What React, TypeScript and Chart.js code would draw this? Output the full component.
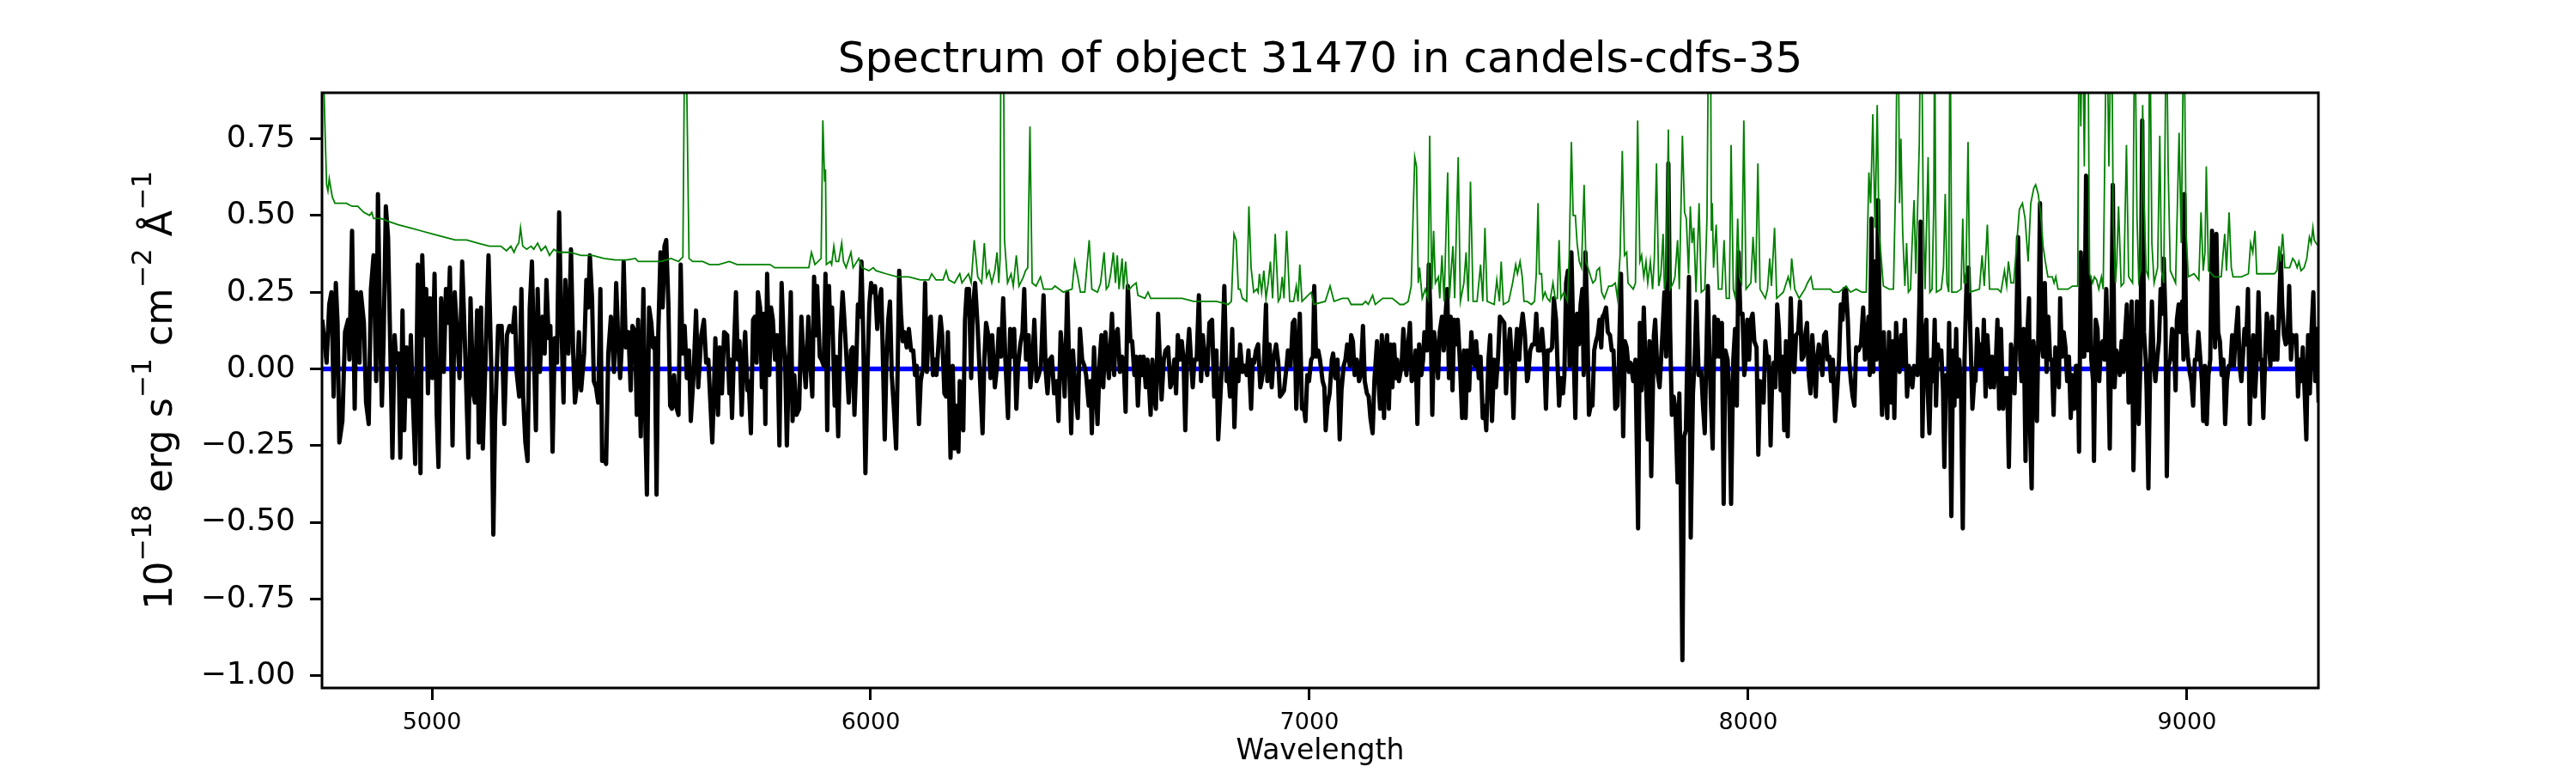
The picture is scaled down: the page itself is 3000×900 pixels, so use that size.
import React, { useEffect, useRef } from "react";
import { Chart, registerables } from "chart.js";

Chart.register(...registerables);

const FONT = "'DejaVu Sans', 'Liberation Sans', sans-serif";

const TITLE = "Spectrum of object 31470 in candels-cdfs-35";
const X_LABEL = "Wavelength";
const Y_LABEL_PARTS = [
  { text: "10", sup: false },
  { text: "\u221218", sup: true },
  { text: " erg s", sup: false },
  { text: "\u22121", sup: true },
  { text: " cm", sup: false },
  { text: "\u22122", sup: true },
  { text: " \u00c5", sup: false },
  { text: "\u22121", sup: true },
];

const xTicks = [5000, 6000, 7000, 8000, 9000];
const yTicks = [-1.0, -0.75, -0.5, -0.25, 0, 0.25, 0.5, 0.75];
const xRange = [4749.5, 9299.5];
const yRange = [-1.04, 0.9];

// observed flux: [wavelength (Å), flux (1e-18 erg/s/cm2/Å)]
const observedFlux: [number, number][] = [
  [4750,0.16],[4760,0.02],[4766,0.21],[4771,0.25],[4776,-0.09],[4781,0.28],[4785,0.15],[4789,-0.24],[4796,-0.17],[4802,0.12],[4809,0.16],[4812,0.03],[4818,0.45],[4824,-0.13],[4828,0.25],[4835,0.02],[4838,0.25],[4845,0.15],[4850,-0.11],[4856,-0.18],[4861,0.26],[4867,0.37],[4873,-0.04],[4877,0.57],[4882,0.12],[4886,-0.12],[4890,0.10],[4895,0.53],[4900,0.43],[4904,0.15],[4910,-0.29],[4915,0.11],[4919,0.02],[4924,0.05],[4928,-0.29],[4933,0.19],[4937,-0.20],[4942,0.07],[4948,-0.09],[4952,0.11],[4955,-0.04],[4962,-0.31],[4968,0.34],[4974,-0.34],[4978,0.37],[4983,0.11],[4987,0.26],[4991,-0.08],[4996,0.23],[5001,-0.03],[5006,0.31],[5011,-0.15],[5015,-0.32],[5021,0.23],[5027,-0.01],[5032,0.26],[5037,0.15],[5041,0.33],[5047,-0.25],[5052,0.25],[5056,0.15],[5063,-0.03],[5069,0.35],[5076,0.05],[5083,-0.29],[5088,0.23],[5094,-0.08],[5098,-0.11],[5103,0.19],[5107,-0.24],[5112,0.20],[5116,-0.26],[5122,0.02],[5129,0.37],[5135,0.02],[5140,-0.54],[5144,-0.17],[5151,0.14],[5159,0.14],[5165,-0.18],[5171,0.11],[5177,0.14],[5184,0.12],[5189,0.20],[5193,-0.01],[5199,-0.09],[5204,0.26],[5208,-0.09],[5213,-0.24],[5218,-0.30],[5223,0.20],[5228,0.35],[5233,0.02],[5237,-0.20],[5241,0.26],[5246,-0.01],[5252,0.17],[5257,0.05],[5261,0.29],[5266,0.10],[5270,0.14],[5275,-0.27],[5280,0.10],[5285,0.02],[5290,0.51],[5294,0.20],[5300,-0.11],[5304,0.29],[5311,0.05],[5317,0.39],[5322,0.05],[5326,-0.11],[5330,-0.06],[5335,0.12],[5340,-0.07],[5347,0.05],[5352,0.29],[5356,0.20],[5360,0.37],[5365,0.23],[5369,-0.04],[5374,-0.06],[5379,-0.11],[5384,0.26],[5388,-0.30],[5392,-0.29],[5397,-0.31],[5402,0.05],[5408,0.17],[5415,-0.01],[5420,0.28],[5425,0.08],[5429,-0.03],[5433,0.08],[5437,0.35],[5442,0.07],[5448,0.12],[5453,-0.07],[5457,0.14],[5463,0.12],[5467,-0.15],[5470,0.16],[5476,-0.22],[5482,0.26],[5487,-0.22],[5490,-0.41],[5495,0.20],[5500,0.15],[5504,0.07],[5508,0.10],[5512,-0.41],[5516,0.12],[5521,0.38],[5526,0.20],[5530,0.40],[5534,0.42],[5539,0.21],[5543,-0.12],[5547,-0.13],[5552,-0.02],[5556,-0.12],[5562,-0.15],[5567,0.34],[5571,0.05],[5576,0.14],[5581,-0.03],[5586,0.06],[5590,-0.17],[5596,-0.03],[5602,0.19],[5607,-0.06],[5614,0.11],[5620,0.16],[5625,0.02],[5630,0.03],[5639,-0.24],[5643,-0.06],[5646,0.10],[5652,-0.15],[5656,0.07],[5661,-0.08],[5666,0.12],[5673,0.11],[5678,-0.08],
  [5680,0.03],[5684,-0.16],[5689,0.09],[5693,0.25],[5697,0.03],[5701,0.09],[5706,-0.15],[5710,0.03],[5714,0.12],[5719,-0.07],[5722,-0.04],[5727,-0.21],[5732,0.16],[5736,0.17],[5740,0.02],[5743,0.25],[5748,0.20],[5752,-0.06],[5756,0.18],[5760,-0.18],[5764,0.31],[5769,-0.02],[5773,0.20],[5777,0.16],[5782,0.03],[5787,0.11],[5792,-0.25],[5797,0.28],[5802,0.08],[5805,0.03],[5809,-0.25],[5813,-0.02],[5818,0.25],[5822,-0.17],[5826,-0.02],[5831,-0.15],[5837,-0.13],[5842,0.17],[5847,0.03],[5852,-0.06],[5858,0.17],[5862,0.03],[5867,-0.09],[5871,0.30],[5875,0.11],[5878,0.27],[5884,0.04],[5888,0.03],[5893,0.01],[5897,0.31],[5901,-0.20],[5905,0.27],[5908,0.12],[5912,0.20],[5918,-0.12],[5921,0.04],[5926,-0.22],[5931,0.11],[5936,0.25],[5940,0.16],[5945,0.03],[5950,-0.11],[5955,0.06],[5959,0.07],[5963,-0.15],[5967,0.01],[5971,0.21],[5975,0.17],[5979,0.35],[5983,0.11],[5988,-0.34],[5993,0.01],[5997,0.21],[6001,0.28],[6006,0.25],[6010,0.27],[6015,0.13],[6019,0.22],[6024,0.26],[6027,0.09],[6032,-0.23],[6036,0.03],[6040,0.16],[6044,0.22],[6048,-0.02],[6053,-0.13],[6058,-0.26],[6061,-0.04],[6065,0.32],[6069,0.18],[6073,0.09],[6077,0.12],[6082,0.07],[6087,0.13],[6092,0.06],[6097,0.06],[6101,-0.02],[6105,0.01],[6110,-0.18],[6114,-0.04],[6120,0.01],[6124,0.28],[6128,-0.01],[6133,0.16],[6137,0.17],[6142,-0.02],[6146,0.03],[6150,-0.02],[6155,0.09],[6159,0.17],[6163,0.11],[6168,-0.08],[6172,-0.09],[6176,0.12],[6182,-0.29],[6187,0.01],[6191,-0.26],[6195,-0.12],[6200,-0.27],[6203,-0.04],[6208,-0.16],[6211,-0.20],[6215,0.16],[6219,0.26],[6224,0.26],[6229,-0.03],[6233,0.20],[6238,0.28],[6244,0.13],[6249,-0.03],[6255,-0.21],[6259,0.03],[6263,0.15],[6268,0.11],[6273,-0.03],[6277,0.11],[6283,-0.06],[6288,0.01],[6292,0.13],[6297,0.04],[6302,0.23],[6307,0.03],[6313,-0.16],[6318,0.13],[6322,0.04],[6327,0.13],[6332,-0.13],[6336,0.01],[6341,0.08],[6346,0.12],[6350,0.26],[6354,0.03],[6360,0.11],[6364,-0.06],[6369,0.03],[6373,0.16],[6378,-0.04],[6383,-0.02],[6388,0.01],[6394,0.24],[6399,-0.01],[6403,-0.08],[6408,0.03],[6413,0.04],[6418,-0.08],[6424,-0.04],[6428,-0.17],[6433,0.12],[6438,0.03],[6442,-0.09],[6448,0.25],[6452,0.03],[6457,-0.21],[6461,0.06],[6467,-0.08],[6472,-0.16],[6477,0.13],[6482,0.03],[6487,0.01],[6491,-0.02],[6497,-0.12],[6501,-0.04],[6504,-0.21],[6509,0.07],[6513,-0.06],[6517,-0.18],[6522,0.03],[6526,0.11],[6530,-0.06],[6535,0.12],[6539,0.03],[6543,-0.03],[6550,0.18],[6555,-0.02],[6558,0.11],[6563,0.13],[6568,-0.01],[6573,0.04],[6577,0.01],[6581,-0.14],[6586,0.27],
  [6592,0.09],[6596,0.09],[6601,-0.02],[6605,0.04],[6609,-0.12],[6614,0.04],[6618,-0.02],[6622,0.04],[6627,-0.06],[6631,0.03],[6635,-0.07],[6638,-0.15],[6642,0.03],[6646,-0.09],[6650,-0.13],[6655,0.18],[6659,0.03],[6663,-0.10],[6668,0.03],[6672,0.06],[6678,0.07],[6683,-0.06],[6687,-0.04],[6692,0.03],[6696,-0.08],[6700,0.11],[6705,0.03],[6709,0.09],[6713,0.03],[6717,-0.20],[6721,0.03],[6726,0.13],[6730,0.03],[6734,-0.06],[6738,0.03],[6743,0.03],[6748,0.24],[6753,-0.04],[6757,0.11],[6762,0.03],[6767,-0.02],[6772,0.15],[6778,0.16],[6783,-0.09],[6788,0.06],[6792,-0.23],[6797,-0.09],[6801,0.03],[6806,0.27],[6811,-0.04],[6815,-0.01],[6819,-0.09],[6824,0.13],[6829,-0.19],[6834,0.03],[6838,-0.04],[6842,0.08],[6847,-0.01],[6852,0.01],[6857,-0.02],[6861,0.06],[6867,-0.13],[6871,0.03],[6874,0.02],[6878,0.06],[6883,0.08],[6888,-0.06],[6891,-0.04],[6896,0.01],[6901,0.21],[6904,-0.04],[6909,0.08],[6914,-0.06],[6918,0.03],[6924,0.08],[6929,0.02],[6933,-0.09],[6938,-0.08],[6942,-0.07],[6948,0.01],[6951,0.06],[6957,0.01],[6962,0.15],[6966,0.16],[6970,-0.13],[6974,0.04],[6978,0.18],[6983,-0.13],[6987,-0.12],[6991,-0.17],[6995,-0.02],[6999,-0.04],[7004,0.03],[7008,0.04],[7011,0.27],[7015,0.04],[7020,0.06],[7024,0.03],[7030,-0.04],[7034,-0.06],[7037,-0.20],[7041,-0.12],[7046,-0.08],[7051,0.03],[7054,0.05],[7059,-0.03],[7064,0.03],[7069,-0.23],[7073,-0.07],[7078,0.01],[7082,0.03],[7086,0.08],[7092,0.01],[7095,0.11],[7099,0.09],[7103,-0.02],[7108,0.03],[7113,-0.04],[7117,-0.02],[7122,0.14],[7126,-0.04],[7131,-0.08],[7135,-0.09],[7139,-0.16],[7144,-0.21],[7148,-0.04],[7154,0.09],[7157,-0.03],[7161,-0.13],[7165,0.11],[7170,-0.16],[7173,0.06],[7177,0.11],[7181,-0.13],[7185,0.08],[7189,-0.06],[7193,0.08],[7197,-0.03],[7200,0.03],[7204,-0.04],[7210,0.01],[7214,0.13],[7217,0.06],[7221,-0.02],[7225,0.08],[7229,0.15],[7233,-0.04],[7237,-0.03],[7242,0.06],[7246,-0.18],[7250,0.08],[7255,-0.02],[7259,0.03],[7262,0.12],[7268,0.06],[7272,0.34],[7276,0.16],[7280,-0.15],[7284,0.12],[7289,0.06],[7293,-0.03],[7297,0.12],[7302,0.17],[7306,0.06],[7310,0.17],[7314,0.26],[7318,-0.03],[7322,0.17],[7326,-0.07],[7330,0.16],[7334,0.08],[7338,0.16],[7343,0.02],[7348,-0.16],[7352,0.06],[7356,-0.16],[7360,0.06],[7364,-0.07],[7369,0.12],[7373,0.03],[7377,0.01],[7380,0.09],[7386,-0.03],[7390,0.04],[7395,-0.16],[7399,-0.12],[7403,-0.20],[7408,0.03],[7412,0.11],[7416,-0.17],[7421,0.03],[7425,-0.06],[7430,0.04],[7434,0.17],[7439,0.16],[7444,0.15],[7448,-0.08],[7452,0.04],[7457,0.13],[7461,0.03],[7465,-0.16],[7469,0.04],[7473,0.13],[7478,0.03],[7482,0.13],[7486,0.18],[7491,0.11],[7496,-0.04],
  [7498,-0.03],[7503,0.06],[7508,0.08],[7513,0.08],[7517,0.18],[7521,0.06],[7526,0.06],[7530,0.13],[7535,0.04],[7539,-0.13],[7543,0.06],[7549,0.06],[7553,0.07],[7557,0.23],[7562,0.16],[7565,0.03],[7569,-0.12],[7573,-0.03],[7578,-0.08],[7581,-0.02],[7585,0.28],[7589,0.32],[7593,0.01],[7597,0.38],[7602,0.06],[7606,-0.16],[7610,0.18],[7614,0.08],[7618,0.21],[7622,0.26],[7625,-0.02],[7629,0.38],[7633,0.18],[7637,-0.15],[7641,-0.12],[7645,-0.12],[7649,0.06],[7653,0.09],[7657,0.11],[7661,0.16],[7665,0.07],[7668,0.17],[7672,0.18],[7676,0.20],[7680,0.12],[7685,0.11],[7689,0.06],[7693,0.06],[7697,-0.13],[7702,-0.12],[7705,0.01],[7710,0.31],[7715,-0.22],[7719,0.09],[7723,0.07],[7728,-0.01],[7732,0.02],[7738,-0.04],[7743,0.03],[7749,-0.52],[7753,0.15],[7757,-0.07],[7762,0.20],[7767,-0.04],[7771,-0.23],[7775,0.09],[7779,-0.35],[7785,0.11],[7788,0.16],[7793,-0.01],[7798,-0.06],[7801,0.02],[7805,0.13],[7809,0.25],[7813,0.04],[7818,0.67],[7822,0.13],[7826,-0.15],[7830,-0.09],[7834,-0.13],[7839,-0.37],[7843,-0.08],[7846,-0.35],[7850,-0.95],[7854,-0.22],[7858,-0.20],[7861,0.03],[7865,0.30],[7869,-0.55],[7874,-0.08],[7878,0.03],[7882,0.22],[7887,-0.02],[7893,-0.01],[7897,-0.12],[7901,-0.21],[7904,0.01],[7908,0.27],[7912,0.03],[7915,-0.11],[7919,-0.26],[7923,0.17],[7927,0.04],[7931,0.16],[7934,0.04],[7940,0.15],[7944,-0.44],[7948,0.06],[7953,0.03],[7957,-0.09],[7961,-0.44],[7966,0.03],[7970,0.13],[7974,-0.12],[7978,0.38],[7982,0.18],[7987,0.18],[7991,-0.02],[7994,0.03],[7998,0.16],[8002,0.03],[8006,0.16],[8010,0.18],[8014,0.09],[8019,0.07],[8023,-0.28],[8027,-0.04],[8031,-0.06],[8035,-0.11],[8039,0.09],[8043,0.03],[8047,0.04],[8051,-0.25],[8054,-0.07],[8058,0.02],[8062,-0.06],[8066,0.21],[8070,0.13],[8074,-0.07],[8078,0.04],[8082,-0.20],[8086,0.09],[8090,-0.22],[8094,0.04],[8097,0.23],[8101,0.03],[8105,-0.01],[8109,0.11],[8114,0.12],[8118,0.22],[8122,0.03],[8126,0.04],[8130,0.11],[8134,0.15],[8138,-0.02],[8142,-0.08],[8146,0.11],[8150,0.01],[8154,-0.09],[8157,0.03],[8161,0.08],[8165,0.04],[8169,-0.02],[8173,0.11],[8177,0.12],[8181,0.03],[8185,0.04],[8189,-0.04],[8193,0.03],[8198,-0.17],[8202,-0.09],[8207,0.03],[8211,0.21],[8215,0.16],[8219,0.26],[8223,0.26],[8227,0.16],[8230,0.03],[8234,-0.04],[8238,-0.09],[8242,-0.12],[8246,0.07],[8251,0.06],[8257,0.08],[8262,0.20],[8266,0.03],[8270,0.08],[8274,0.17],[8277,-0.02],[8281,0.49],[8285,-0.01],[8289,0.35],[8292,0.03],[8296,0.55],[8300,0.11],[8305,-0.15],[8309,0.12],[8313,-0.07],[8317,-0.16],[8321,0.12],[8326,-0.11],[8330,0.09],[8333,-0.16],[8337,0.15],[8341,0.03],[8345,-0.01],[8349,0.11],[8353,0.01],[8357,0.16],[8362,-0.09],[8366,0.01],[8370,-0.02],[8374,-0.06],[8378,0.01],[8382,-0.01],[8386,-0.02],[8390,0.21],[8393,0.48],[8397,-0.22],[8401,0.09],[8406,0.16],
  [8409,-0.07],[8413,-0.21],[8417,0.03],[8421,-0.04],[8425,0.16],[8428,-0.12],[8432,0.08],[8436,0.03],[8440,0.06],[8444,-0.07],[8447,-0.32],[8451,-0.02],[8455,-0.08],[8458,0.15],[8463,-0.48],[8467,0.06],[8470,-0.12],[8474,0.13],[8477,-0.09],[8481,0.03],[8485,-0.07],[8489,-0.52],[8493,0.03],[8498,0.30],[8502,0.33],[8507,0.08],[8511,-0.13],[8515,-0.04],[8518,-0.04],[8522,0.13],[8527,0.01],[8530,0.08],[8534,0.01],[8537,0.16],[8541,-0.09],[8545,0.11],[8548,0.03],[8552,-0.06],[8556,0.04],[8560,-0.06],[8564,0.01],[8568,0.16],[8572,-0.13],[8576,0.13],[8581,-0.13],[8586,-0.03],[8590,-0.03],[8594,-0.32],[8599,0.08],[8603,0.03],[8607,-0.08],[8611,0.13],[8615,0.43],[8620,0.03],[8623,-0.04],[8628,0.13],[8632,-0.30],[8636,0.11],[8640,0.23],[8642,-0.17],[8646,-0.39],[8650,0.09],[8654,0.02],[8658,-0.17],[8662,0.18],[8665,0.54],[8668,0.09],[8672,0.04],[8676,0.28],[8680,-0.01],[8684,0.17],[8688,0.03],[8692,0.03],[8696,-0.15],[8700,0.07],[8704,0.03],[8708,-0.06],[8711,0.23],[8715,0.04],[8719,0.12],[8723,0.07],[8727,-0.04],[8731,0.04],[8735,-0.16],[8739,-0.02],[8743,-0.13],[8747,0.01],[8751,0.01],[8754,-0.27],[8758,0.38],[8762,0.04],[8766,0.04],[8770,0.63],[8774,0.06],[8778,0.30],[8782,0.03],[8786,-0.04],[8788,-0.30],[8792,0.16],[8796,0.13],[8800,-0.04],[8804,0.08],[8808,0.09],[8812,0.03],[8816,0.26],[8820,0.03],[8824,-0.26],[8828,0.18],[8831,0.60],[8835,-0.06],[8839,0.06],[8843,0.03],[8847,-0.02],[8851,0.09],[8855,-0.01],[8859,0.11],[8863,0.21],[8867,-0.11],[8871,0.03],[8874,0.22],[8878,-0.33],[8882,-0.02],[8886,0.22],[8890,-0.18],[8894,0.03],[8898,0.81],[8902,0.12],[8906,0.03],[8908,-0.07],[8912,-0.39],[8916,0.01],[8920,0.22],[8924,0.03],[8928,-0.04],[8932,0.03],[8936,0.09],[8940,0.26],[8944,0.18],[8947,0.36],[8951,0.16],[8954,-0.35],[8958,0.01],[8962,0.03],[8966,0.13],[8970,0.11],[8974,-0.07],[8977,0.16],[8981,0.21],[8985,0.12],[8989,0.22],[8992,0.03],[8994,0.57],[8998,0.12],[9002,0.04],[9006,-0.01],[9010,-0.04],[9014,-0.12],[9018,0.03],[9022,0.03],[9026,0.12],[9030,0.04],[9034,-0.04],[9037,-0.17],[9041,0.01],[9045,-0.18],[9049,-0.02],[9053,0.03],[9057,0.45],[9061,0.28],[9064,0.07],[9067,0.44],[9071,0.12],[9075,0.09],[9079,-0.02],[9083,0.03],[9087,-0.18],[9091,-0.04],[9095,0.01],[9099,0.01],[9103,0.11],[9107,0.01],[9110,0.09],[9116,0.20],[9120,0.01],[9124,-0.04],[9127,0.03],[9131,0.13],[9135,0.08],[9139,0.26],[9143,-0.18],[9147,0.03],[9151,0.11],[9155,-0.09],[9159,0.03],[9163,0.25],[9167,0.03],[9170,0.03],[9174,-0.16],[9178,0.03],[9182,0.18],[9186,0.12],[9190,0.01],[9194,0.17],[9198,0.03],[9202,0.12],[9206,0.03],[9210,0.21],[9214,0.37],[9217,0.21],[9221,0.11],[9225,0.08],[9229,0.09],[9233,0.27],[9237,0.03],[9241,0.11],[9245,0.09],[9249,0.11],[9253,-0.09],[9257,0.03],[9260,-0.04],[9264,0.07],[9268,-0.07],[9272,-0.23],[9276,0.11],[9280,-0.08],[9284,0.13],[9288,0.25],[9292,-0.04],[9296,0.13],[9300,-0.11],
];

// sky / noise spectrum (green): [wavelength, value]
const skyNoise: [number, number][] = [
  [4749,1.2],[4756,0.8],[4760,0.6],[4763,0.58],[4766,0.62],[4773,0.56],[4779,0.54],[4792,0.54],[4805,0.54],[4818,0.53],[4831,0.53],[4845,0.51],[4858,0.50],[4863,0.51],[4867,0.49],[4884,0.49],[4903,0.48],[4923,0.47],[4949,0.46],[4975,0.45],[5001,0.44],[5027,0.43],[5053,0.42],[5079,0.42],[5105,0.41],[5131,0.40],[5157,0.40],[5170,0.385],[5180,0.40],[5187,0.38],[5193,0.40],[5198,0.41],[5202,0.46],[5207,0.40],[5216,0.39],[5226,0.40],[5232,0.39],[5241,0.41],[5249,0.385],[5259,0.40],[5268,0.37],[5278,0.39],[5288,0.38],[5314,0.38],[5340,0.37],[5366,0.37],[5392,0.36],[5418,0.355],[5444,0.355],[5464,0.36],[5470,0.35],[5496,0.35],[5523,0.35],[5545,0.36],[5562,0.35],[5572,0.365],[5575,0.9],[5577,2.0],[5579,2.0],[5581,0.9],[5586,0.36],[5594,0.35],[5607,0.35],[5617,0.35],[5633,0.34],[5653,0.34],[5678,0.35],
  [5696,0.34],[5722,0.34],[5748,0.34],[5771,0.34],[5781,0.33],[5826,0.33],[5859,0.33],[5865,0.38],[5873,0.34],[5887,0.36],[5891,0.81],[5895,0.61],[5897,0.65],[5899,0.34],[5908,0.35],[5911,0.34],[5916,0.40],[5921,0.35],[5927,0.35],[5934,0.41],[5938,0.35],[5944,0.33],[5955,0.38],[5960,0.33],[5973,0.36],[5980,0.33],[5996,0.32],[6006,0.33],[6012,0.32],[6035,0.31],[6061,0.30],[6087,0.30],[6113,0.29],[6133,0.29],[6139,0.31],[6149,0.29],[6165,0.29],[6172,0.32],[6178,0.29],[6191,0.28],[6203,0.31],[6208,0.28],[6223,0.31],[6229,0.28],[6236,0.42],[6244,0.30],[6253,0.28],[6259,0.41],[6264,0.30],[6270,0.32],[6276,0.28],[6283,0.32],[6288,0.38],[6292,0.28],[6295,0.36],[6298,1.6],[6301,1.6],[6305,0.42],[6312,0.28],[6320,0.31],[6325,0.27],[6332,0.37],[6338,0.27],[6348,0.30],[6353,0.32],[6358,0.33],[6363,0.79],[6368,0.28],[6377,0.27],[6387,0.30],[6394,0.26],[6413,0.26],[6420,0.27],[6439,0.25],[6459,0.26],[6465,0.35],[6472,0.30],[6478,0.25],[6488,0.25],[6498,0.42],[6504,0.26],[6517,0.25],[6524,0.28],[6532,0.38],[6537,0.26],[6542,0.27],[6547,0.31],[6553,0.38],[6558,0.28],[6562,0.37],[6566,0.26],[6573,0.36],[6576,0.26],[6581,0.35],[6586,0.26],
  [6590,0.26],[6596,0.27],[6605,0.28],[6609,0.24],[6625,0.23],[6632,0.25],[6638,0.23],[6665,0.23],[6684,0.23],[6710,0.23],[6736,0.22],[6762,0.22],[6788,0.22],[6815,0.21],[6822,0.22],[6828,0.44],[6833,0.42],[6838,0.26],[6842,0.26],[6847,0.23],[6857,0.22],[6862,0.53],[6867,0.33],[6873,0.25],[6880,0.26],[6883,0.25],[6886,0.31],[6891,0.25],[6896,0.32],[6901,0.23],[6906,0.28],[6911,0.35],[6916,0.23],[6922,0.44],[6929,0.22],[6933,0.23],[6938,0.30],[6942,0.23],[6948,0.45],[6955,0.22],[6964,0.22],[6970,0.27],[6974,0.22],[6978,0.34],[6983,0.22],[7004,0.25],[7010,0.21],[7036,0.22],[7047,0.27],[7056,0.22],[7075,0.23],[7088,0.23],[7095,0.21],[7121,0.21],[7128,0.22],[7134,0.21],[7144,0.24],[7150,0.21],[7167,0.23],[7176,0.23],[7189,0.23],[7206,0.21],[7215,0.21],[7225,0.22],[7232,0.27],[7237,0.54],[7240,0.69],[7244,0.66],[7248,0.28],[7251,0.33],[7257,0.23],[7264,0.26],[7270,0.23],[7274,0.76],[7279,0.26],[7283,0.45],[7287,0.28],[7294,0.30],[7297,0.23],[7302,0.37],[7307,0.22],[7315,0.64],[7319,0.23],[7323,0.32],[7327,0.40],[7331,0.23],[7339,0.69],[7344,0.22],[7352,0.28],[7357,0.38],[7362,0.22],[7367,0.61],[7373,0.22],[7382,0.22],[7390,0.34],[7395,0.22],[7400,0.46],[7405,0.22],[7421,0.21],[7427,0.29],[7433,0.22],[7437,0.35],[7442,0.21],[7454,0.22],[7463,0.28],[7470,0.34],[7474,0.31],[7480,0.35],[7485,0.30],[7489,0.22],[7496,0.22],
  [7506,0.21],[7513,0.22],[7517,0.31],[7521,0.54],[7524,0.31],[7529,0.31],[7532,0.23],[7537,0.25],[7542,0.23],[7548,0.22],[7555,0.28],[7560,0.23],[7565,0.23],[7569,0.42],[7573,0.23],[7580,0.25],[7588,0.22],[7592,0.37],[7597,0.74],[7601,0.50],[7606,0.50],[7610,0.41],[7615,0.35],[7620,0.33],[7626,0.60],[7630,0.35],[7637,0.32],[7641,0.30],[7646,0.28],[7652,0.29],[7655,0.32],[7661,0.33],[7666,0.25],[7672,0.23],[7682,0.27],[7689,0.27],[7697,0.28],[7702,0.23],[7708,0.37],[7713,0.71],[7718,0.37],[7723,0.38],[7726,0.28],[7738,0.26],[7743,0.28],[7748,0.81],[7753,0.35],[7757,0.37],[7762,0.30],[7767,0.35],[7771,0.28],[7777,0.35],[7782,0.26],[7786,0.36],[7791,0.67],[7796,0.27],[7801,0.31],[7806,0.44],[7809,0.26],[7813,0.30],[7818,0.78],[7822,0.26],[7829,0.28],[7833,0.30],[7839,0.42],[7843,0.26],[7850,0.76],[7855,0.51],[7859,0.49],[7864,0.31],[7868,0.53],[7872,0.41],[7876,0.46],[7881,0.25],[7888,0.54],[7893,0.25],[7901,0.26],[7906,0.49],[7910,1.2],[7914,1.2],[7916,0.45],[7918,0.54],[7921,0.33],[7927,0.47],[7932,0.26],[7940,0.26],[7945,0.42],[7950,0.23],[7957,0.23],[7961,0.73],[7966,0.26],[7971,0.23],[7976,0.49],[7980,0.30],[7985,0.28],[7990,0.81],[7995,0.26],[8006,0.28],[8011,0.43],[8017,0.28],[8022,0.67],[8027,0.26],[8039,0.23],[8044,0.26],[8049,0.36],[8053,0.27],[8060,0.46],[8065,0.23],[8080,0.25],[8091,0.30],[8096,0.27],[8099,0.36],[8106,0.26],[8116,0.23],[8129,0.26],[8135,0.28],[8143,0.30],[8148,0.26],[8168,0.26],[8181,0.26],[8187,0.26],[8194,0.25],[8207,0.25],[8223,0.27],[8233,0.25],[8246,0.26],[8259,0.25],[8269,0.25],[8275,0.64],[8279,0.54],[8284,0.83],[8289,0.46],[8294,0.86],[8298,0.45],[8302,0.38],[8308,0.27],[8321,0.26],[8331,0.26],[8336,0.61],[8341,1.3],[8345,0.54],[8348,0.75],[8352,0.45],[8357,0.27],[8361,0.41],[8365,0.25],[8370,0.26],[8373,0.39],[8378,0.55],[8382,0.31],[8386,0.52],[8390,0.74],[8394,1.3],[8399,0.50],[8403,0.26],
  [8410,0.69],[8414,0.25],[8419,0.26],[8423,0.54],[8425,1.2],[8427,0.54],[8429,0.25],[8440,0.26],[8445,0.33],[8449,0.57],[8453,0.28],[8457,0.25],[8460,1.2],[8464,0.25],[8475,0.25],[8485,0.26],[8489,0.49],[8492,0.28],[8496,0.28],[8501,0.74],[8505,0.25],[8527,0.26],[8533,0.37],[8538,0.27],[8545,0.47],[8550,0.26],[8569,0.26],[8576,0.25],[8584,0.32],[8589,0.27],[8593,0.35],[8599,0.28],[8605,0.28],[8612,0.41],[8618,0.52],[8625,0.54],[8631,0.49],[8638,0.35],[8644,0.54],[8651,0.59],[8655,0.60],[8661,0.57],[8667,0.50],[8672,0.40],[8677,0.35],[8683,0.30],[8693,0.30],[8697,0.28],[8701,0.30],[8706,0.26],[8713,0.26],[8729,0.26],[8739,0.27],[8751,0.27],[8754,1.2],[8758,0.79],[8762,1.2],[8766,0.66],[8770,1.2],[8774,1.2],[8778,0.31],[8785,0.28],[8789,0.30],[8794,0.29],[8799,0.26],[8805,0.30],[8809,0.26],[8817,1.2],[8822,0.66],[8828,1.2],[8832,0.47],[8837,0.28],[8840,0.35],[8844,0.53],[8850,0.27],[8856,0.28],[8862,0.73],[8867,0.30],[8876,0.28],[8881,1.2],[8886,0.50],[8890,0.29],[8895,0.33],[8899,0.86],[8902,0.54],[8907,0.32],[8912,0.30],[8915,1.2],[8920,0.41],[8925,0.28],[8933,0.33],[8938,0.76],[8942,0.32],[8947,0.28],[8953,1.2],[8957,0.66],[8962,0.32],[8974,0.28],[8982,0.77],[8987,0.41],[8993,1.2],[8998,0.44],[9003,0.30],[9016,0.31],[9027,0.29],[9032,0.51],[9037,0.32],[9041,0.38],[9044,0.66],[9049,0.32],[9062,0.30],[9078,0.30],[9086,0.44],[9090,0.32],[9096,0.51],[9101,0.33],[9105,0.30],[9124,0.30],[9140,0.31],[9145,0.41],[9150,0.38],[9155,0.45],[9159,0.31],[9182,0.31],[9199,0.31],[9205,0.32],[9210,0.40],[9213,0.35],[9218,0.44],[9223,0.33],[9234,0.33],[9241,0.36],[9246,0.35],[9251,0.33],[9255,0.35],[9260,0.32],[9267,0.33],[9273,0.36],[9279,0.43],[9283,0.41],[9287,0.46],[9290,0.42],[9294,0.41],[9300,0.40],
];

// continuum model (blue)
const continuumModel: [number, number][] = [
  [4749.5, 0],
  [9300, 0],
];

const toXY = (pts: [number, number][]) => pts.map(([x, y]) => ({ x, y }));

const fmtY = (v: number) => (v < 0 ? "\u2212" + Math.abs(v).toFixed(2) : v.toFixed(2));

const framePlugin = {
  id: "axesFrame",
  afterDatasetsDraw(chart: any) {
    const { ctx, chartArea } = chart;
    ctx.save();
    ctx.strokeStyle = "#000";
    ctx.lineWidth = 3;
    ctx.strokeRect(chartArea.left, chartArea.top, chartArea.right - chartArea.left, chartArea.bottom - chartArea.top);
    ctx.restore();
  },
};

const textPlugin = {
  id: "figureText",
  afterDraw(chart: any) {
    const { ctx, chartArea } = chart;
    const cx = (chartArea.left + chartArea.right) / 2;
    const cy = (chartArea.top + chartArea.bottom) / 2;
    ctx.save();
    ctx.fillStyle = "#000";
    ctx.textBaseline = "alphabetic";
    ctx.textAlign = "center";
    ctx.font = `50px ${FONT}`;
    ctx.fillText(TITLE, cx, 84);
    ctx.font = `33px ${FONT}`;
    ctx.fillText(X_LABEL, cx, 884);

    const size = 44.5;
    ctx.translate(200, cy);
    ctx.rotate(-Math.PI / 2);
    ctx.textAlign = "left";
    const widths = Y_LABEL_PARTS.map((p) => {
      ctx.font = `${p.sup ? size * 0.7 : size}px ${FONT}`;
      return ctx.measureText(p.text).width;
    });
    const total = widths.reduce((a, b) => a + b, 0);
    let x = -total / 2;
    Y_LABEL_PARTS.forEach((p, i) => {
      ctx.font = `${p.sup ? size * 0.7 : size}px ${FONT}`;
      ctx.fillText(p.text, x, p.sup ? -size * 0.55 : 0);
      x += widths[i];
    });
    ctx.restore();
  },
};

export default function App() {
  const canvasRef = useRef<HTMLCanvasElement | null>(null);

  useEffect(() => {
    const canvas = canvasRef.current;
    if (!canvas) return;
    const gridOpts = {
      display: true,
      drawOnChartArea: false,
      drawTicks: true,
      tickLength: 14,
      tickWidth: 3,
      tickColor: "#000",
    };
    const chart = new Chart(canvas, {
      type: "line",
      data: {
        datasets: [
          {
            label: "sky",
            data: toXY(skyNoise),
            borderColor: "#008000",
            borderWidth: 1.8,
            pointRadius: 0,
            tension: 0,
            clip: 0,
          },
          {
            label: "flux",
            data: toXY(observedFlux),
            borderColor: "#000000",
            borderWidth: 5,
            borderJoinStyle: "round",
            pointRadius: 0,
            tension: 0,
            clip: 0,
          },
          {
            label: "continuum",
            data: toXY(continuumModel),
            borderColor: "#0000ff",
            borderWidth: 5.5,
            pointRadius: 0,
            tension: 0,
            clip: 0,
          },
        ],
      },
      options: {
        responsive: false,
        animation: false,
        devicePixelRatio: 1,
        events: [],
        layout: { padding: { left: 0, right: 300, top: 108, bottom: 0 } },
        plugins: {
          legend: { display: false },
          tooltip: { enabled: false },
          title: { display: false },
        },
        scales: {
          x: {
            type: "linear",
            min: xRange[0],
            max: xRange[1],
            afterFit(scale: any) {
              scale.height = 99;
            },
            afterBuildTicks(scale: any) {
              scale.ticks = xTicks.map((v) => ({ value: v }));
            },
            ticks: {
              color: "#000",
              font: { family: FONT, size: 27 },
              padding: 11,
              maxRotation: 0,
              autoSkip: false,
              callback: (v: any) => String(v),
            },
            grid: gridOpts,
            border: { display: false },
          },
          y: {
            type: "linear",
            min: yRange[0],
            max: yRange[1],
            afterFit(scale: any) {
              scale.width = 375;
            },
            afterBuildTicks(scale: any) {
              scale.ticks = yTicks.map((v) => ({ value: v }));
            },
            ticks: {
              color: "#000",
              font: { family: FONT, size: 36 },
              padding: 17,
              autoSkip: false,
              callback: (v: any) => fmtY(Number(v)),
            },
            grid: gridOpts,
            border: { display: false },
          },
        },
      },
      plugins: [framePlugin, textPlugin],
    } as any);
    return () => chart.destroy();
  }, []);

  return (
    <div style={{ position: "absolute", left: 0, top: 0, width: 3000, height: 900, background: "#fff" }}>
      <canvas ref={canvasRef} width={3000} height={900} style={{ display: "block", width: 3000, height: 900 }} />
    </div>
  );
}
